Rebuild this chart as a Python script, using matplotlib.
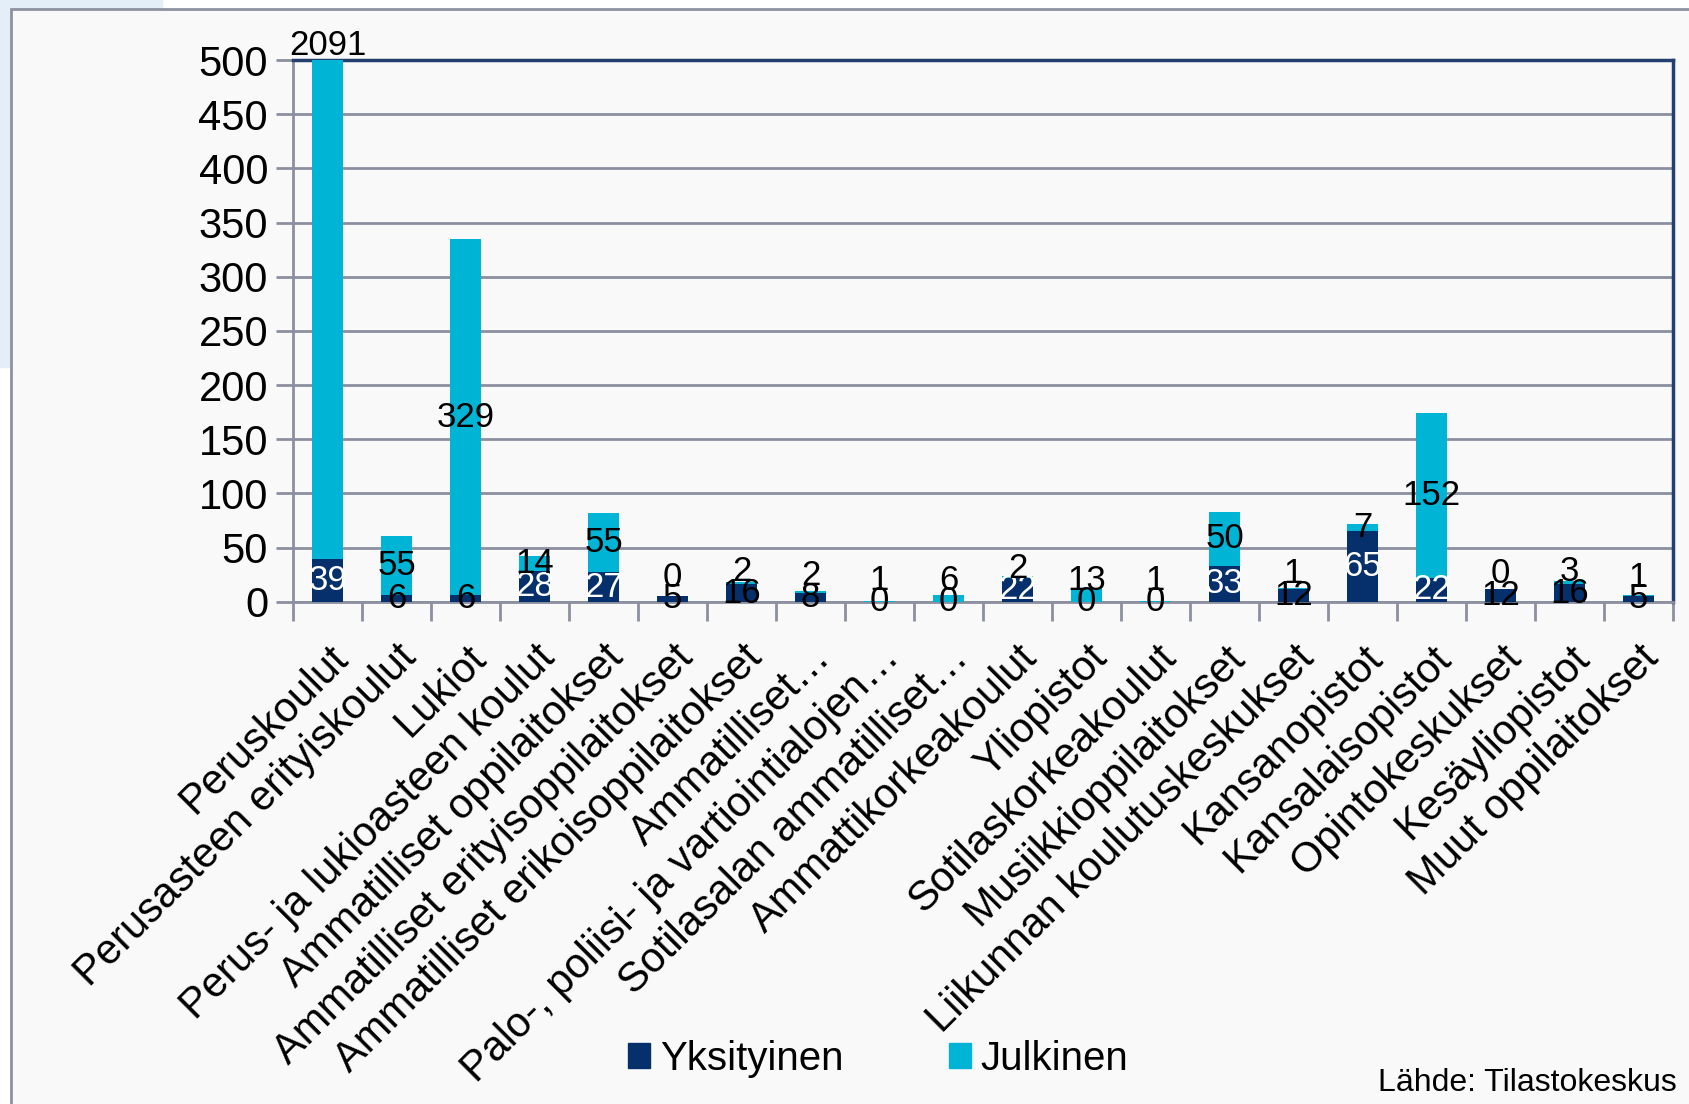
import matplotlib
matplotlib.use("Agg")
import matplotlib.pyplot as plt
from matplotlib.patches import Patch, Rectangle
import numpy as np

plt.rcParams['font.family'] = ['Liberation Sans', 'DejaVu Sans']

# data
categories = [
    "Peruskoulut", "Perusasteen erityiskoulut", "Lukiot",
    "Perus- ja lukioasteen koulut", "Ammatilliset oppilaitokset",
    "Ammatilliset erityisoppilaitokset", "Ammatilliset erikoisoppilaitokset",
    "Ammatilliset…", "Palo-, poliisi- ja vartiointialojen…",
    "Sotilasalan ammatilliset…", "Ammattikorkeakoulut", "Yliopistot",
    "Sotilaskorkeakoulut", "Musiikkioppilaitokset",
    "Liikunnan koulutuskeskukset", "Kansanopistot", "Kansalaisopistot",
    "Opintokeskukset", "Kesäyliopistot", "Muut oppilaitokset",
]
yksityinen = [39, 6, 6, 28, 27, 5, 16, 8, 0, 0, 22, 0, 0, 33, 12, 65, 22, 12, 16, 5]
julkinen = [2091, 55, 329, 14, 55, 0, 2, 2, 1, 6, 2, 13, 1, 50, 1, 7, 152, 0, 3, 1]
yticks = [0, 50, 100, 150, 200, 250, 300, 350, 400, 450, 500]

navy = '#05306b'
cyan = '#00b4d6'
grid_c = '#8b8fa0'
ymax = 500

fig = plt.figure(figsize=(16.89, 11.04), dpi=100)
fig.patch.set_facecolor('white')
# light blue frame pieces and chart area box
fig.patches.append(Rectangle((0, 0.668), 0.007, 0.332, transform=fig.transFigure,
                             color='#e3eef8', zorder=-10))
fig.patches.append(Rectangle((0, 0.992), 0.096, 0.008, transform=fig.transFigure,
                             color='#e3eef8', zorder=-10))
fig.patches.append(Rectangle((0.0065, -0.01), 1.0, 1.002, transform=fig.transFigure,
                             facecolor='#f9f9f9', edgecolor='#8c92a0', lw=2, zorder=-9))

ax = fig.add_axes([0.1735, 0.455, 0.817, 0.4905])
ax.set_facecolor('none')
x = np.arange(len(categories))
y = np.array(yksityinen)
j = np.array(julkinen)
w = 0.44
ax.bar(x, y, w, color=navy, zorder=3)
ax.bar(x, j, w, bottom=y, color=cyan, zorder=3)
ax.set_ylim(0, ymax)
ax.set_xlim(-0.5, len(categories) - 0.5)

# data labels
fs_lab = 25
for i in range(len(categories)):
    yc = y[i] / 2
    col = 'white' if y[i] >= 20 else 'black'
    ax.text(x[i], yc, str(y[i]), ha='center', va='center', fontsize=fs_lab,
            color=col, zorder=4)
    jc = y[i] + j[i] / 2
    if jc > ymax:
        ax.text(x[i], ymax - 2, str(j[i]), ha='center', va='bottom',
                fontsize=fs_lab, color='black', zorder=4, clip_on=False)
    else:
        jc = max(jc, yc + 20)
        ax.text(x[i], jc, str(j[i]), ha='center', va='center', fontsize=fs_lab,
                color='black', zorder=4)

ax.set_yticks(yticks)
ax.tick_params(axis='y', labelsize=30, length=12, width=2, color=grid_c, pad=6)
ax.yaxis.grid(True, color=grid_c, lw=2, zorder=1)
ax.set_xticks(x)
ax.set_xticklabels(categories, rotation=45, ha='right', rotation_mode='anchor',
                   fontsize=30)
ax.tick_params(axis='x', length=0, pad=26)
ax.set_xticks(np.arange(len(categories) + 1) - 0.5, minor=True)
ax.tick_params(axis='x', which='minor', length=14, width=2, color=grid_c)

for s in ['left', 'bottom']:
    ax.spines[s].set_color(grid_c)
    ax.spines[s].set_linewidth(2)
for s in ['top', 'right']:
    ax.spines[s].set_color('#23406f')
    ax.spines[s].set_linewidth(2.5)

handles = [Patch(color=navy), Patch(color=cyan)]
fig.legend(handles, ["Yksityinen", "Julkinen"], loc='center',
           bbox_to_anchor=(0.52, 0.041), ncol=2, frameon=False, fontsize=29,
           handlelength=0.55, handleheight=0.55, handletextpad=0.25,
           columnspacing=2.6)
fig.text(0.993, 0.019, "Lähde: Tilastokeskus", ha='right', va='center',
         fontsize=23)

fig.savefig("out.png", dpi=100, facecolor=fig.get_facecolor())
